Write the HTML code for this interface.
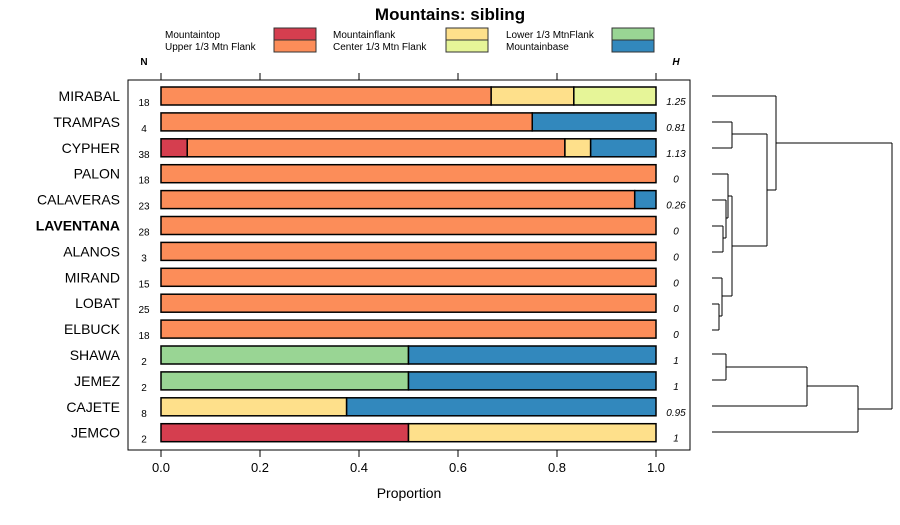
<!DOCTYPE html>
<html><head><meta charset="utf-8"><style>body{margin:0;background:#fff}svg{font-family:"Liberation Sans",sans-serif}</style></head>
<body>
<svg id="c" width="900" height="520">
<text x="450" y="20" text-anchor="middle" font-size="17" font-weight="bold">Mountains: sibling</text>
<rect x="128" y="80" width="562" height="370" fill="none" stroke="#000"/>
<text x="144" y="65" text-anchor="middle" font-size="10" font-weight="bold">N</text>
<text x="676" y="65" text-anchor="middle" font-size="10" font-weight="bold" font-style="italic">H</text>
<text x="409" y="498" text-anchor="middle" font-size="14">Proportion</text>
<g id="legend"></g>
<g id="axes"></g>
<g id="bars"></g>
<g id="dend" fill="none" stroke="#000"></g>
</svg>
<script>
const categories=["Mountaintop","Upper 1/3 Mtn Flank","Mountainflank","Center 1/3 Mtn Flank","Lower 1/3 MtnFlank","Mountainbase"];
const colors=["#D53E4F","#FC8D59","#FEE08B","#E6F598","#99D594","#3288BD"];
const sites=["MIRABAL","TRAMPAS","CYPHER","PALON","CALAVERAS","LAVENTANA","ALANOS","MIRAND","LOBAT","ELBUCK","SHAWA","JEMEZ","CAJETE","JEMCO"];
const nValues=[18,4,38,18,23,28,3,15,25,18,2,2,8,2];
const hValues=["1.25","0.81","1.13","0","0.26","0","0","0","0","0","1","1","0.95","1"];
const mountaintop=[0,0,0.053,0,0,0,0,0,0,0,0,0,0,0.5];
const upperFlank=[0.667,0.75,0.763,1,0.957,1,1,1,1,1,0,0,0,0];
const mountainflank=[0.167,0,0.052,0,0,0,0,0,0,0,0,0,0.375,0.5];
const centerFlank=[0.166,0,0,0,0,0,0,0,0,0,0,0,0,0];
const lowerFlank=[0,0,0,0,0,0,0,0,0,0,0.5,0.5,0,0];
const mountainbase=[0,0.25,0.132,0,0.043,0,0,0,0,0,0.5,0.5,0.625,0];
const ticks=[0,0.2,0.4,0.6,0.8,1.0];
const tickLabels=["0.0","0.2","0.4","0.6","0.8","1.0"];
const NS="http://www.w3.org/2000/svg";
const xs=v=>161+v*495;
const ys=i=>96+i*25.9;
function mk(tag,attrs,parent,txt){const e=document.createElementNS(NS,tag);for(const k in attrs)e.setAttribute(k,attrs[k]);if(txt!==undefined)e.textContent=txt;parent.appendChild(e);return e;}
const series=[mountaintop,upperFlank,mountainflank,centerFlank,lowerFlank,mountainbase];
const lg=document.getElementById('legend');
categories.forEach((c,k)=>{const col=Math.floor(k/2),row=k%2;const tx=[165,333,506][col],bx=[274,446,612][col];
 const t=mk('text',{x:tx,y:38+row*12,'font-size':10},lg,c);
 
 
 const r=mk('rect',{x:bx,y:28+row*12,width:42,height:12,fill:colors[k],stroke:'#333'},lg);
 
 
});
const ax=document.getElementById('axes');
ticks.forEach((v,i)=>{mk('line',{x1:xs(v),x2:xs(v),y1:73,y2:80,stroke:'#000'},ax);mk('line',{x1:xs(v),x2:xs(v),y1:450,y2:457,stroke:'#000'},ax);
 const t=mk('text',{x:xs(v),y:472,'text-anchor':'middle','font-size':13},ax,tickLabels[i]);
 
 
});
const bg=document.getElementById('bars');
sites.forEach((s,i)=>{const y=ys(i);
 const l=mk('text',{x:120,y:y+5,'text-anchor':'end','font-size':14,'font-weight':s==="LAVENTANA"?'bold':'normal'},bg,s);
 
 
 const n=mk('text',{x:144,y:y+10,'text-anchor':'middle','font-size':10},bg,nValues[i]);
 
 
 const h=mk('text',{x:676,y:y+9,'text-anchor':'middle','font-size':10,'font-style':'italic'},bg,hValues[i]);
 
 
 let acc=0;series.forEach((arr,k)=>{const v=arr[i];if(v<=0)return;
  const r=mk('rect',{x:xs(acc),y:y-9,width:xs(acc+v)-xs(acc),height:18,fill:colors[k],stroke:'#000','stroke-width':1.5},bg);
  
  
  acc+=v;});
});
const dg=document.getElementById('dend');
const segs=[[712,96,776,96],[712,122,732,122],[712,148,732,148],[732,122,732,148],[732,134,767,134],
[712,174,728,174],[712,200,726,200],[712,226,723,226],[712,252,723,252],[723,226,723,252],[723,238,726,238],[726,200,726,238],[726,218,728,218],[728,174,728,218],[728,196,732,196],
[712,278,722,278],[712,304,719,304],[712,330,719,330],[719,304,719,330],[719,316,722,316],[722,278,722,316],[722,296,732,296],[732,196,732,296],[732,246,767,246],[767,134,767,246],[767,190,776,190],[776,96,776,190],[776,143,892,143],
[712,354,726,354],[712,380,726,380],[726,354,726,380],[726,367,807,367],[712,406,807,406],[807,367,807,406],[807,386,858,386],[712,432,858,432],[858,386,858,432],[858,409,892,409],[892,143,892,409]];
segs.forEach(s=>{mk('line',{x1:s[0],y1:s[1],x2:s[2],y2:s[3]},dg);});
</script>
</body></html>
